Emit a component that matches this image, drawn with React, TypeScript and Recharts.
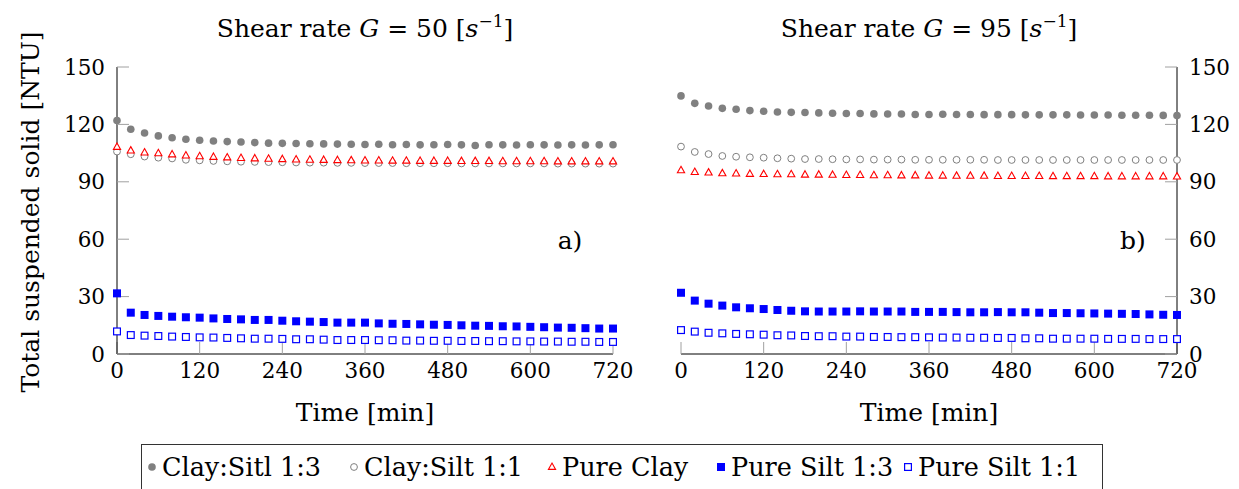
import React from 'react';
import { ScatterChart, Scatter, XAxis, YAxis } from 'recharts';

const TIME = [0, 20, 40, 60, 80, 100, 120, 140, 160, 180, 200, 220, 240, 260, 280, 300, 320, 340, 360, 380, 400, 420, 440, 460, 480, 500, 520, 540, 560, 580, 600, 620, 640, 660, 680, 700, 720];
const X_TICKS = [0, 120, 240, 360, 480, 600, 720];
const Y_TICKS = [0, 30, 60, 90, 120, 150];
const SERIES_NAMES = ['Clay:Sitl 1:3', 'Clay:Silt 1:1', 'Pure Clay', 'Pure Silt 1:3', 'Pure Silt 1:1'];
const TITLES = ['50', '95'];
const PANEL_TAGS = ['a)', 'b)'];

// Panel a) G = 50
const A_CLAY_SILT_13 = [122, 117.5, 115.5, 114, 113, 112.2, 111.7, 111.3, 111, 110.8, 110.5, 110.2, 110.1, 110, 109.9, 109.8, 109.7, 109.6, 109.5, 109.6, 109.4, 109.5, 109.3, 109.4, 109.5, 109.3, 109.0, 109.4, 109.3, 109.2, 109.4, 109.3, 109.2, 109.3, 109.2, 109.3, 109.4];
const A_CLAY_SILT_11 = [105.8, 104.4, 103.2, 102.6, 102.2, 101.5, 101.2, 100.9, 100.7, 100.5, 100.4, 100.3, 100.2, 100.1, 100.0, 100.0, 99.9, 99.9, 99.8, 99.8, 99.8, 99.7, 99.7, 99.7, 99.7, 99.6, 99.6, 99.6, 99.6, 99.6, 99.6, 99.6, 99.5, 99.5, 99.5, 99.5, 99.5];
const A_PURE_CLAY = [108.2, 106.3, 105.3, 104.9, 104.3, 103.7, 103.3, 103, 102.7, 102.4, 102.2, 102, 101.8, 101.6, 101.5, 101.4, 101.3, 101.2, 101.1, 101.1, 101, 101, 100.9, 100.9, 100.9, 100.8, 100.8, 100.8, 100.7, 100.7, 100.7, 100.7, 100.6, 100.6, 100.6, 100.6, 100.6];
const A_PURE_SILT_13 = [31.7, 21.6, 20.4, 19.9, 19.5, 19.2, 19, 18.6, 18.3, 18.1, 17.8, 17.8, 17.4, 17.1, 16.9, 16.7, 16.4, 16.4, 16.4, 16.0, 15.8, 15.7, 15.5, 15.3, 15.2, 15.0, 14.8, 14.7, 14.5, 14.4, 14.2, 14.0, 13.8, 13.7, 13.5, 13.3, 13.3];
const A_PURE_SILT_11 = [11.8, 9.9, 9.6, 9.4, 9.1, 8.9, 8.7, 8.6, 8.4, 8.2, 8.0, 8.0, 7.9, 7.7, 7.7, 7.5, 7.3, 7.3, 7.3, 7.2, 7.2, 7.0, 7.0, 6.9, 6.9, 6.8, 6.8, 6.7, 6.7, 6.6, 6.6, 6.5, 6.5, 6.4, 6.4, 6.3, 6.3];

// Panel b) G = 95
const B_CLAY_SILT_13 = [134.9, 131, 129.6, 128.4, 127.9, 127.2, 126.9, 126.5, 126.3, 126.2, 126, 125.8, 125.7, 125.7, 125.5, 125.4, 125.4, 125.2, 125.2, 125.3, 125.2, 125.2, 125.1, 125.1, 125.1, 125, 125, 125, 125, 124.9, 124.9, 124.9, 124.8, 124.8, 124.8, 124.7, 124.6];
const B_CLAY_SILT_11 = [108.4, 105.6, 104.5, 103.5, 103.1, 102.8, 102.6, 102.3, 102.1, 101.9, 101.9, 101.8, 101.7, 101.7, 101.6, 101.6, 101.6, 101.5, 101.5, 101.5, 101.5, 101.5, 101.5, 101.4, 101.4, 101.4, 101.4, 101.4, 101.4, 101.4, 101.4, 101.4, 101.4, 101.4, 101.4, 101.4, 101.4];
const B_PURE_CLAY = [96, 95.1, 94.8, 94.4, 94.3, 94.1, 94.0, 93.9, 93.9, 93.7, 93.7, 93.6, 93.5, 93.5, 93.4, 93.4, 93.3, 93.3, 93.2, 93.2, 93.1, 93.1, 93.1, 93.0, 93.0, 93.0, 93.0, 92.9, 92.9, 92.9, 92.9, 92.8, 92.8, 92.8, 92.8, 92.8, 92.7];
const B_PURE_SILT_13 = [32, 27.9, 26.3, 25.3, 24.4, 23.9, 23.5, 23, 22.6, 22.3, 22.2, 22.2, 22.2, 22.3, 22.2, 22.2, 22.2, 22.0, 22.0, 22.0, 21.9, 21.8, 21.8, 21.9, 21.8, 21.8, 21.6, 21.4, 21.4, 21.3, 21.2, 21.1, 21.0, 20.9, 20.7, 20.5, 20.4];
const B_PURE_SILT_11 = [12.5, 11.7, 11.1, 10.8, 10.5, 10.3, 10.1, 9.8, 9.7, 9.4, 9.3, 9.3, 9.1, 9.1, 8.9, 8.9, 8.8, 8.8, 8.7, 8.6, 8.6, 8.5, 8.5, 8.4, 8.4, 8.2, 8.2, 8.0, 8.0, 8.0, 8.0, 7.9, 7.9, 7.9, 7.8, 7.8, 7.8];

const FONT = 'DejaVu Serif';
const GRAY = '#808080';
const BLUE = '#0000ff';
const RED = '#ff0000';
const TICK_GRAY = '#a0a0a0';
const FS_TICK = 21.5;
const FS_LABEL = 25;
const FS_LEGEND = 25.5;

const mk = (vals: number[]) => TIME.map((t, i) => ({ t, v: vals[i] }));

const FilledCircle = (p: any) => <circle cx={p.cx} cy={p.cy} r={3.8} fill={GRAY} />;
const OpenCircle = (p: any) => <circle cx={p.cx} cy={p.cy} r={3.4} fill="#fff" stroke={GRAY} strokeWidth={1} />;
const Triangle = (p: any) => (
  <path d={`M${p.cx},${p.cy - 4} L${p.cx + 3.6},${p.cy + 2.4} L${p.cx - 3.6},${p.cy + 2.4} Z`} fill="#fff" stroke={RED} strokeWidth={1.1} />
);
const FilledSquare = (p: any) => <rect x={p.cx - 4} y={p.cy - 4} width={8} height={8} fill={BLUE} />;
const OpenSquare = (p: any) => <rect x={p.cx - 3.4} y={p.cy - 3.4} width={6.8} height={6.8} fill="#fff" stroke={BLUE} strokeWidth={1.2} />;

const SHAPES = [FilledCircle, OpenCircle, Triangle, FilledSquare, OpenSquare];

const tickStyle = { fill: '#000', fontSize: FS_TICK, fontFamily: FONT };

function Panel({ series, side }: { series: number[][]; side: 'left' | 'right' }) {
  const isLeft = side === 'left';
  const width = isLeft ? 645 : 619;
  const margin = isLeft
    ? { top: 67, right: 32, bottom: 56, left: 57 }
    : { top: 67, right: 12, bottom: 56, left: 61 };
  return (
    <ScatterChart width={width} height={440} margin={margin} style={{ overflow: 'visible' }}>
      <XAxis
        xAxisId="b"
        dataKey="t"
        type="number"
        domain={[0, 720]}
        ticks={X_TICKS}
        height={30}
        stroke="#000"
        tickSize={-12}
        tickMargin={21}
        tickLine={{ stroke: TICK_GRAY }}
        tick={tickStyle}
        interval={0}
      />
      <XAxis
        xAxisId="top"
        orientation="top"
        type="number"
        domain={[0, 720]}
        ticks={X_TICKS}
        height={0}
        stroke="#000"
        tickSize={-12}
        tickLine={{ stroke: TICK_GRAY }}
        tick={false}
        interval={0}
      />
      <YAxis
        yAxisId="main"
        dataKey="v"
        type="number"
        orientation={isLeft ? 'left' : 'right'}
        domain={[0, 150]}
        ticks={Y_TICKS}
        width={isLeft ? 60 : 50}
        stroke="#000"
        tickSize={-12}
        tickMargin={24}
        tickLine={{ stroke: TICK_GRAY }}
        tick={tickStyle}
        interval={0}
      />
      <YAxis
        yAxisId="mirror"
        type="number"
        orientation={isLeft ? 'right' : 'left'}
        domain={[0, 150]}
        ticks={Y_TICKS}
        width={0}
        stroke="#000"
        tickSize={-12}
        tickLine={{ stroke: TICK_GRAY }}
        tick={false}
        interval={0}
      />
      {series.map((vals, i) => (
        <Scatter
          key={SERIES_NAMES[i]}
          name={SERIES_NAMES[i]}
          data={mk(vals)}
          xAxisId="b"
          yAxisId="main"
          shape={SHAPES[i]}
          isAnimationActive={false}
        />
      ))}
    </ScatterChart>
  );
}

function Title({ x, g }: { x: number; g: string }) {
  return (
    <text x={x} y={37} textAnchor="middle" fontSize={FS_LABEL} fontFamily={FONT} fill="#000">
      Shear rate <tspan fontStyle="italic">G</tspan> = {g} [<tspan fontStyle="italic">s</tspan>
      <tspan dy={-10} fontSize={17}>−1</tspan>
      <tspan dy={10}>]</tspan>
    </text>
  );
}

const LEGEND_X = [152, 354, 552, 721, 908];

function LegendMarker({ i, x, y }: { i: number; x: number; y: number }) {
  const S = SHAPES[i];
  return <S cx={x} cy={y} />;
}

export default function App() {
  return (
    <div style={{ position: 'absolute', left: 0, top: 0, width: 1239, height: 489, background: '#fff', overflow: 'hidden', fontFamily: FONT }}>
      <div style={{ position: 'absolute', left: 0, top: 0 }}>
        <Panel side="left" series={[A_CLAY_SILT_13, A_CLAY_SILT_11, A_PURE_CLAY, A_PURE_SILT_13, A_PURE_SILT_11]} />
      </div>
      <div style={{ position: 'absolute', left: 620, top: 0 }}>
        <Panel side="right" series={[B_CLAY_SILT_13, B_CLAY_SILT_11, B_PURE_CLAY, B_PURE_SILT_13, B_PURE_SILT_11]} />
      </div>
      <svg width={1239} height={489} style={{ position: 'absolute', left: 0, top: 0, pointerEvents: 'none' }}>
        <Title x={365} g={TITLES[0]} />
        <Title x={929} g={TITLES[1]} />
        <text x={30} y={212} transform="rotate(-90 30 212)" textAnchor="middle" dominantBaseline="central" fontSize={FS_LABEL} fontFamily={FONT}>
          Total suspended solid [NTU]
        </text>
        <text x={365} y={421} textAnchor="middle" fontSize={FS_LABEL} fontFamily={FONT}>Time [min]</text>
        <text x={929} y={421} textAnchor="middle" fontSize={FS_LABEL} fontFamily={FONT}>Time [min]</text>
        <text x={570} y={249} textAnchor="middle" fontSize={FS_LABEL} fontFamily={FONT}>{PANEL_TAGS[0]}</text>
        <text x={1133} y={249} textAnchor="middle" fontSize={FS_LABEL} fontFamily={FONT}>{PANEL_TAGS[1]}</text>
        <rect x={141.5} y={444.5} width={961} height={80} fill="none" stroke="#333" strokeWidth={1} />
        {SERIES_NAMES.map((name, i) => (
          <g key={name}>
            <LegendMarker i={i} x={LEGEND_X[i]} y={467} />
            <text x={LEGEND_X[i] + 10} y={476} fontSize={FS_LEGEND} fontFamily={FONT}>{name}</text>
          </g>
        ))}
      </svg>
    </div>
  );
}
